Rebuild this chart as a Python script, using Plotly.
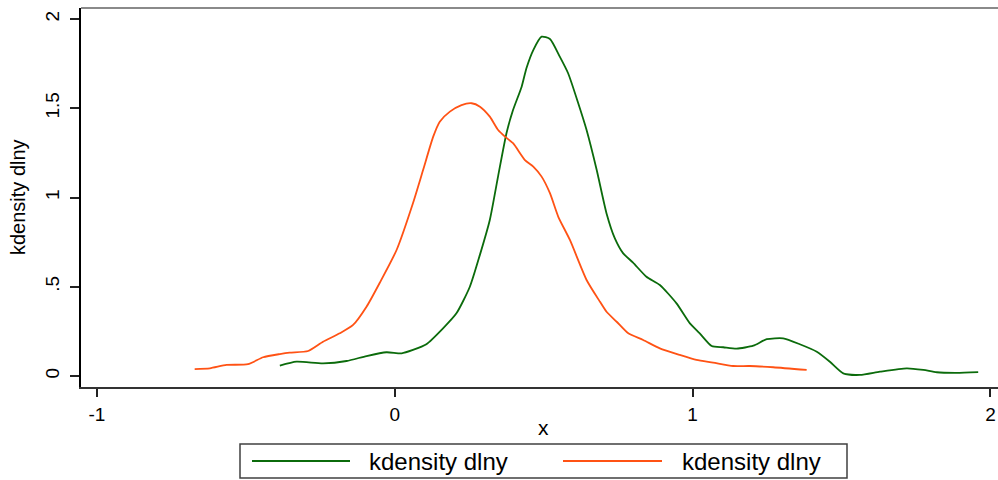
import plotly.graph_objects as go

# ---- data ----
green_x = [-0.386, -0.330, -0.241, -0.162, -0.095, -0.028, 0.023, 0.061, 0.106, 0.162, 0.207, 0.252,
           0.286, 0.319, 0.347, 0.375, 0.397, 0.426, 0.442, 0.465, 0.493, 0.521, 0.554, 0.582, 0.616,
           0.644, 0.678, 0.711, 0.739, 0.767, 0.800, 0.845, 0.890, 0.946, 0.991, 1.024, 1.064, 1.103,
           1.148, 1.204, 1.249, 1.304, 1.360, 1.417, 1.461, 1.506, 1.562, 1.629, 1.719, 1.775, 1.820,
           1.887, 1.959]
green_y = [0.058, 0.080, 0.071, 0.084, 0.112, 0.133, 0.127, 0.146, 0.178, 0.267, 0.351, 0.500,
           0.680, 0.874, 1.120, 1.360, 1.490, 1.621, 1.724, 1.826, 1.901, 1.888, 1.789, 1.696, 1.528,
           1.378, 1.154, 0.911, 0.771, 0.687, 0.635, 0.556, 0.510, 0.407, 0.295, 0.239, 0.168, 0.161,
           0.153, 0.170, 0.206, 0.211, 0.178, 0.136, 0.080, 0.015, 0.006, 0.024, 0.043, 0.034, 0.021,
           0.018, 0.022]

orange_x = [-0.672, -0.621, -0.565, -0.493, -0.442, -0.386, -0.353, -0.291, -0.241, -0.185, -0.140,
            -0.095, -0.050, 0.006, 0.061, 0.095, 0.129, 0.151, 0.185, 0.224, 0.258, 0.286, 0.319,
            0.347, 0.370, 0.397, 0.437, 0.465, 0.493, 0.521, 0.549, 0.588, 0.644, 0.689, 0.711, 0.745,
            0.784, 0.834, 0.890, 0.957, 1.013, 1.069, 1.136, 1.192, 1.271, 1.383]
orange_y = [0.039, 0.043, 0.062, 0.066, 0.105, 0.123, 0.131, 0.140, 0.192, 0.239, 0.286,
            0.388, 0.524, 0.706, 0.968, 1.154, 1.341, 1.425, 1.481, 1.518, 1.528, 1.509, 1.453,
            1.378, 1.341, 1.304, 1.210, 1.173, 1.117, 1.024, 0.892, 0.762, 0.538, 0.416, 0.360, 0.304,
            0.239, 0.202, 0.155, 0.118, 0.090, 0.075, 0.056, 0.056, 0.049, 0.034]

series_names = ["kdensity dlny", "kdensity dlny"]
x_ticks = [-1, 0, 1, 2]
y_ticks = [0, 0.5, 1, 1.5, 2]
y_tick_labels = ["0", ".5", "1", "1.5", "2"]

GREEN = "#0b6b0b"
ORANGE = "#ff5214"
FONT = "Liberation Sans, Arial, sans-serif"

# ---- layout geometry (pixels) ----
W, H = 998, 480
L, R, T, B = 81, 0, 8, 93
PW, PH = W - L - R, H - T - B


def px(xp):
    return (xp - L) / PW


def py(yp):
    return (H - B - yp) / PH


fig = go.Figure()
fig.add_trace(go.Scatter(x=green_x, y=green_y, mode="lines", name=series_names[0],
                         line=dict(color=GREEN, width=1.8, shape="spline", smoothing=0.6),
                         showlegend=False))
fig.add_trace(go.Scatter(x=orange_x, y=orange_y, mode="lines", name=series_names[1],
                         line=dict(color=ORANGE, width=1.8, shape="spline", smoothing=0.6),
                         showlegend=False))

fig.update_layout(
    width=W, height=H,
    margin=dict(l=L, r=R, t=T, b=B, pad=0),
    paper_bgcolor="white", plot_bgcolor="white",
    font=dict(family=FONT, color="black"),
    xaxis=dict(range=[-1.0537, 2.0255], tickvals=x_ticks, ticktext=[str(v) for v in x_ticks],
               showgrid=False, zeroline=False, showline=True, linecolor="#333333", linewidth=2,
               ticks="outside", ticklen=8, tickwidth=1.5, tickcolor="#222222",
               tickfont=dict(size=19, family=FONT), ticklabelstandoff=1),
    yaxis=dict(range=[-0.0616, 2.0616], tickvals=y_ticks, ticktext=y_tick_labels,
               showgrid=False, zeroline=False, showline=True, linecolor="black", linewidth=2,
               ticks="outside", ticklen=9, tickwidth=1.5, tickcolor="#222222",
               tickangle=-90, tickfont=dict(size=19, family=FONT), ticklabelstandoff=3),
)

shapes = [
    # top frame line
    dict(type="line", xref="paper", yref="paper", x0=0, x1=1, y0=1, y1=1,
         line=dict(color="#8a8a8a", width=2)),
    # legend box
    dict(type="rect", xref="paper", yref="paper", x0=px(240), x1=px(847), y0=py(478), y1=py(444),
         line=dict(color="#404040", width=1.5), fillcolor="white"),
    dict(type="line", xref="paper", yref="paper", x0=px(252), x1=px(350), y0=py(461), y1=py(461),
         line=dict(color=GREEN, width=1.8)),
    dict(type="line", xref="paper", yref="paper", x0=px(563), x1=px(662), y0=py(461), y1=py(461),
         line=dict(color=ORANGE, width=1.8)),
]
annotations = [
    dict(text="kdensity dlny", xref="paper", yref="paper", x=px(18), y=py(197), showarrow=False,
         textangle=-90, font=dict(size=20, family=FONT), xanchor="center", yanchor="middle"),
    dict(text="x", xref="paper", yref="paper", x=px(543), y=py(427), showarrow=False,
         font=dict(size=21, family=FONT), xanchor="center", yanchor="middle"),
    dict(text=series_names[0], xref="paper", yref="paper", x=px(367), y=py(461), showarrow=False,
         font=dict(size=24, family=FONT), xanchor="left", yanchor="middle"),
    dict(text=series_names[1], xref="paper", yref="paper", x=px(680), y=py(461), showarrow=False,
         font=dict(size=24, family=FONT), xanchor="left", yanchor="middle"),
]
fig.update_layout(shapes=shapes, annotations=annotations)

fig.write_html("out.html")
